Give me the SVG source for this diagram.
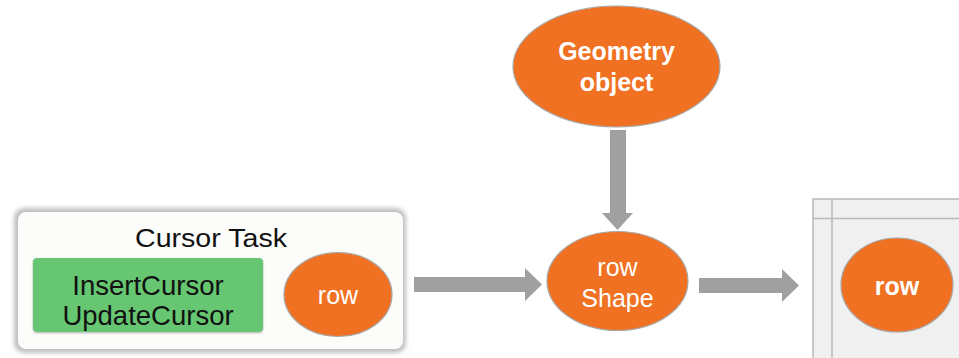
<svg xmlns="http://www.w3.org/2000/svg" width="959" height="358" viewBox="0 0 959 358">
  <defs>
    <style>
      .orb { fill: #f07122; stroke: #a8a8a8; stroke-width: 1.2; }
      .wt { fill: #ffffff; font-family: "Liberation Sans", Arial, sans-serif; text-anchor: middle; }
      .bt { fill: #111111; font-family: "Liberation Sans", Arial, sans-serif; text-anchor: middle; }
      .arrow { fill: #a0a0a0; }
      .grid { stroke: #b8b8b8; stroke-width: 1.5; fill: none; }
    </style>
    <filter id="soft" x="-10%" y="-10%" width="120%" height="120%">
      <feGaussianBlur stdDeviation="2"/>
    </filter>
    <filter id="drop" x="-10%" y="-10%" width="120%" height="130%">
      <feDropShadow dx="0" dy="1" stdDeviation="1" flood-color="#000" flood-opacity="0.3"/>
    </filter>
  </defs>

  <!-- Cursor task container -->
  <g id="cursor-task">
    <rect x="14" y="208" width="392" height="145" rx="10" fill="#c0c0c0" filter="url(#soft)"/>
    <rect x="18" y="212" width="385" height="137" rx="8" fill="#fcfcfa"/>
    <text class="bt" x="211" y="247" font-size="25" textLength="152" lengthAdjust="spacingAndGlyphs">Cursor Task</text>
  </g>

  <g id="cursor-methods">
    <rect x="33" y="258" width="230" height="74" rx="4" fill="#66c672" filter="url(#drop)"/>
    <text class="bt" x="148" y="295" font-size="27.5">InsertCursor</text>
    <text class="bt" x="148" y="325" font-size="27.5">UpdateCursor</text>
  </g>

  <g id="row-input">
    <ellipse class="orb" cx="338" cy="294.5" rx="54" ry="42"/>
    <text class="wt" x="338" y="304" font-size="25">row</text>
  </g>

  <g id="geometry-object">
    <ellipse class="orb" cx="616.5" cy="66.5" rx="103.5" ry="60.5"/>
    <text class="wt" x="616.5" y="60" font-size="25" font-weight="bold">Geometry</text>
    <text class="wt" x="616.5" y="91" font-size="25" font-weight="bold">object</text>
  </g>

  <g id="row-shape">
    <ellipse class="orb" cx="617.5" cy="281" rx="70.5" ry="49.5"/>
    <text class="wt" x="617.5" y="276" font-size="25">row</text>
    <text class="wt" x="617.5" y="307" font-size="25">Shape</text>
  </g>

  <!-- Feature table holding the stored row -->
  <g id="feature-table">
    <rect x="813" y="199" width="160" height="170" fill="#f0f0f0"/>
    <path class="grid" d="M813 358 V199 H959 M813 218.5 H959 M832 199 V358"/>
    <ellipse class="orb" cx="897" cy="285" rx="56" ry="47"/>
    <text class="wt" x="897" y="295" font-size="25" font-weight="bold">row</text>
  </g>

  <!-- Block arrows -->
  <g id="connectors">
    <polygon class="arrow" points="414,277 525,277 525,268 542,284.5 525,301 525,292 414,292"/>
    <polygon class="arrow" points="699,278 782,278 782,269 799,285.5 782,302 782,293 699,293"/>
    <polygon class="arrow" points="610,130 626,130 626,213 633,213 617.5,230 602,213 610,213"/>
  </g>
</svg>
